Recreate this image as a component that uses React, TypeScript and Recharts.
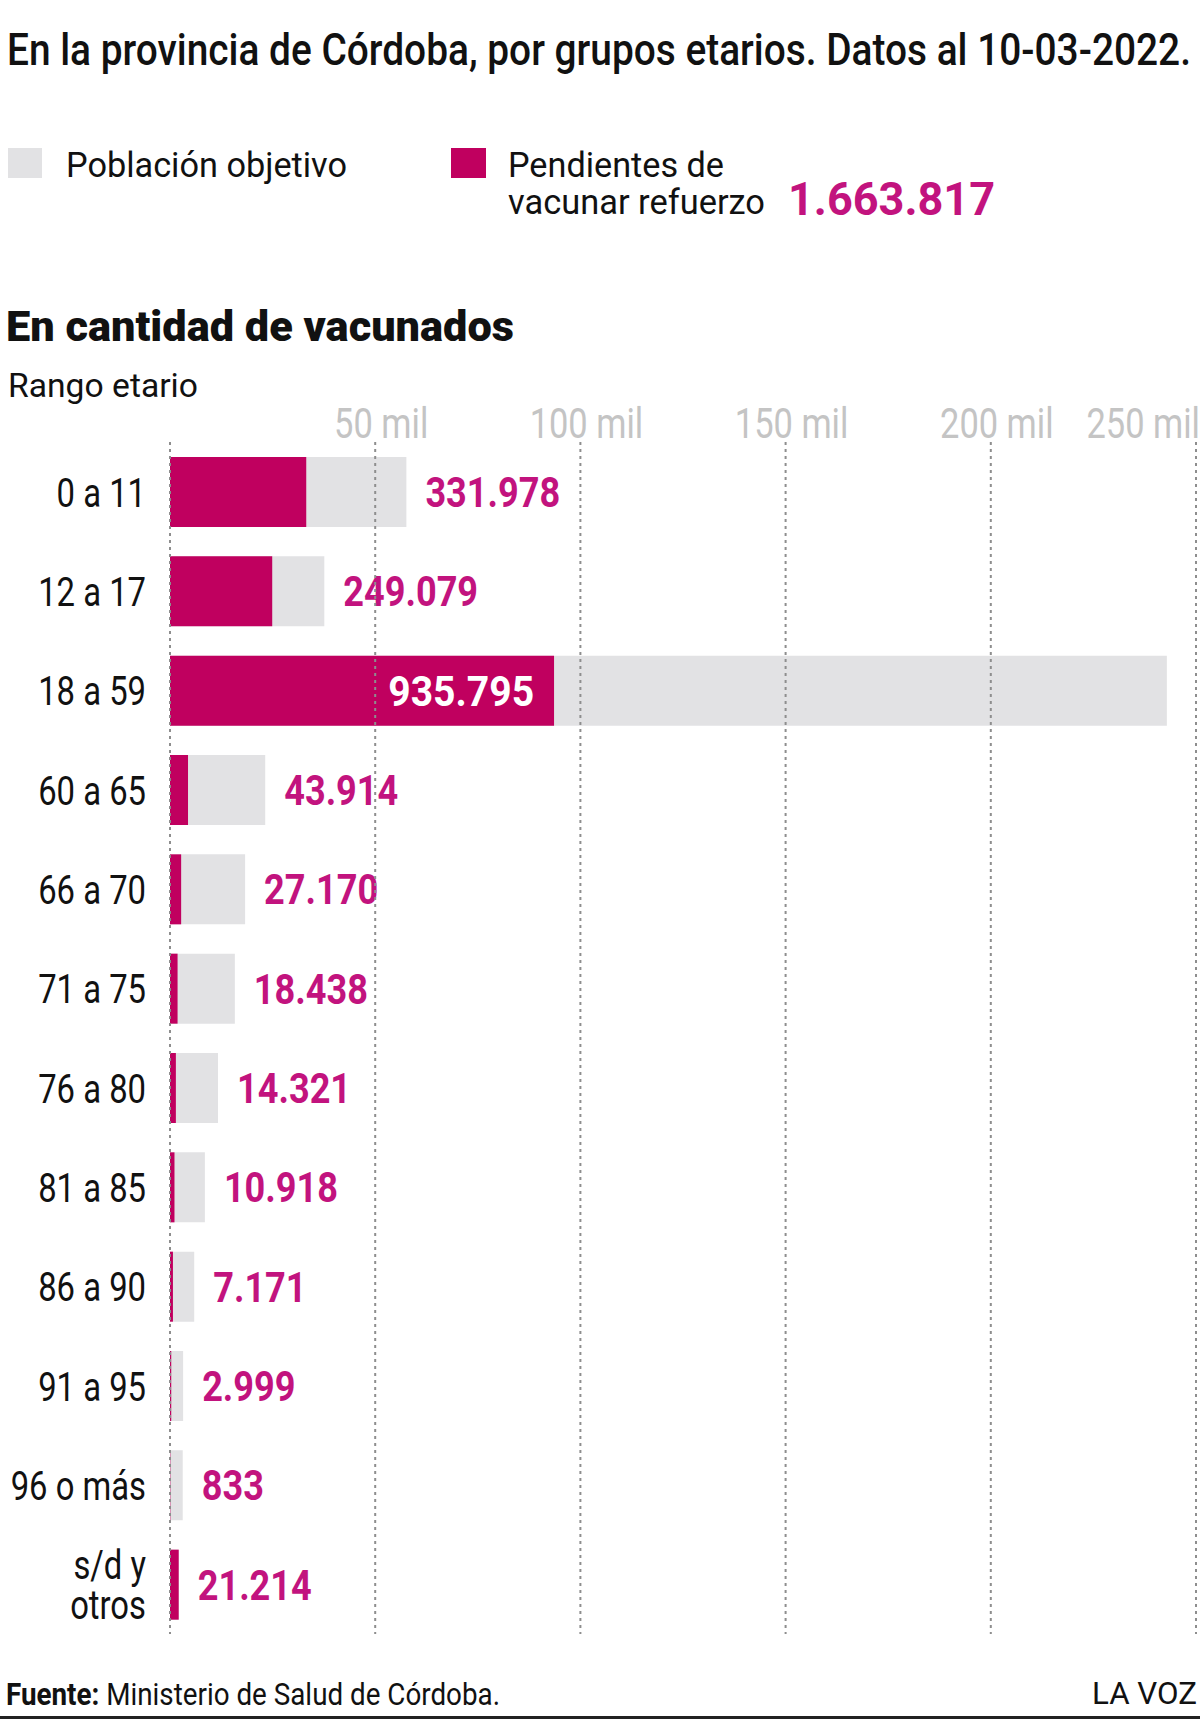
import React from 'react';
import { BarChart, Bar, XAxis, YAxis, CartesianGrid, LabelList } from 'recharts';

// ---- data ----
const categories = ['0 a 11', '12 a 17', '18 a 59', '60 a 65', '66 a 70', '71 a 75', '76 a 80', '81 a 85', '86 a 90', '91 a 95', '96 o más', 's/d y\notros'];
const poblacionObjetivo = [576000, 376000, 2429000, 232000, 183000, 158000, 117000, 85000, 59000, 32000, 31000, 21214];
const pendientes = [331978, 249079, 935795, 43914, 27170, 18438, 14321, 10918, 7171, 2999, 833, 21214];
const tickValues = [0, 500000, 1000000, 1500000, 2000000, 2500000];
const tickLabels = ['', '50 mil', '100 mil', '150 mil', '200 mil', '250 mil'];
const totalPendientes = '1.663.817';

const data = categories.map((c, i) => ({ cat: c, pob: poblacionObjetivo[i], pend: pendientes[i] }));

const PINK = '#C0005F';
const PINK_TEXT = '#C2137E';
const GRAY = '#E2E2E4';
const FONT = 'Roboto, "Noto Sans", sans-serif';

const fmt = (n: number) => String(n).replace(/\B(?=(\d{3})+(?!\d))/g, '.');
const INSIDE_LIMIT = 2000000;

const CHART_W = 1200;
const CHART_H = 1720;
const MARGIN = { top: 410, right: 4, bottom: 86, left: 10 };
const X_DOMAIN: [number, number] = [0, 2500000];

const XTick = (props: any) => {
  const { x, y, index } = props;
  const label = tickLabels[index] ?? '';
  if (!label) return null;
  const last = index === tickValues.length - 1;
  const tx = last ? x + 4 : x + 6;
  return (
    <text transform={`translate(${tx},${y}) scale(0.82,1)`} textAnchor={last ? 'end' : 'middle'}
      fontFamily={FONT} fontSize={42} fill="#C4C4C4">{label}</text>
  );
};

const EmptyTick = () => <g />;

const YTick = (props: any) => {
  const { x, y, payload } = props;
  const lines = String(payload.value).split('\n');
  const lh = 40;
  const start = y + 15 - ((lines.length - 1) * lh) / 2;
  return (
    <g>
      {lines.map((ln, i) => (
        <text key={i} transform={`translate(${x},${start + i * lh}) scale(0.8,1)`} textAnchor="end"
          fontFamily={FONT} fontSize={41} fill="#111">{ln}</text>
      ))}
    </g>
  );
};

const OutsideLabel = (props: any) => {
  const { x, y, width, height, index } = props;
  const row = data[index];
  if (!row || row.pob > INSIDE_LIMIT) return null;
  return (
    <text transform={`translate(${x + width + 19},${y + height / 2 + 15}) scale(0.86,1)`}
      fontFamily={FONT} fontWeight={700} fontSize={42} fill={PINK_TEXT}>{fmt(row.pend)}</text>
  );
};

const InsideLabel = (props: any) => {
  const { x, y, width, height, index } = props;
  const row = data[index];
  if (!row || row.pob <= INSIDE_LIMIT) return null;
  return (
    <text transform={`translate(${x + width - 20},${y + height / 2 + 15}) scale(0.93,1)`} textAnchor="end"
      fontFamily={FONT} fontWeight={700} fontSize={42} fill="#fff">{fmt(row.pend)}</text>
  );
};

export default function App() {
  return (
    <div style={{ position: 'absolute', left: 0, top: 0, width: 1200, height: 1720, background: '#fff', overflow: 'hidden' }}>
      {/* bars, axes and labels */}
      <div style={{ position: 'absolute', left: 0, top: 0 }}>
        <BarChart layout="vertical" width={CHART_W} height={CHART_H} data={data}
          margin={MARGIN} barSize={70} barGap={-70}>
          <XAxis type="number" orientation="top" domain={X_DOMAIN} ticks={tickValues} height={32}
            axisLine={false} tickLine={false} tickSize={0} tickMargin={4} tick={<XTick />} interval={0} />
          <YAxis type="category" dataKey="cat" width={160} axisLine={false} tickLine={false}
            tickSize={0} tickMargin={24} tick={<YTick />} interval={0} />
          <Bar dataKey="pob" fill={GRAY} isAnimationActive={false}>
            <LabelList dataKey="pend" content={<OutsideLabel />} />
          </Bar>
          <Bar dataKey="pend" fill={PINK} isAnimationActive={false}>
            <LabelList dataKey="pend" content={<InsideLabel />} />
          </Bar>
        </BarChart>
      </div>
      {/* same chart frame again, only its dotted grid, drawn above the bars */}
      <div style={{ position: 'absolute', left: 0, top: 0, pointerEvents: 'none' }}>
        <BarChart layout="vertical" width={CHART_W} height={CHART_H} data={data}
          margin={MARGIN} barSize={70} barGap={-70}>
          <XAxis type="number" orientation="top" domain={X_DOMAIN} ticks={tickValues} height={32}
            axisLine={false} tickLine={false} tickSize={0} tick={<EmptyTick />} interval={0} />
          <YAxis type="category" dataKey="cat" width={160} axisLine={false} tickLine={false}
            tickSize={0} tick={<EmptyTick />} interval={0} />
          <Bar dataKey="pob" fill="transparent" fillOpacity={0} isAnimationActive={false} />
          <CartesianGrid horizontal={false} vertical={true} stroke="#8E8E8E" strokeWidth={2} strokeDasharray="3 4" />
        </BarChart>
      </div>
      <svg width={1200} height={1720} style={{ position: 'absolute', left: 0, top: 0, pointerEvents: 'none' }}>
        <text x={7} y={65} fontFamily={FONT} fontWeight={500} fontSize={45} fill="#111"
          textLength={1184} lengthAdjust="spacingAndGlyphs">En la provincia de Córdoba, por grupos etarios. Datos al 10-03-2022.</text>

        <rect x={8} y={148} width={34} height={30} fill={GRAY} />
        <text x={66} y={177} fontFamily={FONT} fontSize={35} fill="#111"
          textLength={281} lengthAdjust="spacingAndGlyphs">Población objetivo</text>
        <rect x={451} y={148} width={35} height={30} fill={PINK} />
        <text x={508} y={177} fontFamily={FONT} fontSize={35} fill="#111"
          textLength={216} lengthAdjust="spacingAndGlyphs">Pendientes de</text>
        <text x={508} y={214} fontFamily={FONT} fontSize={35} fill="#111"
          textLength={257} lengthAdjust="spacingAndGlyphs">vacunar refuerzo</text>
        <text x={788} y={215} fontFamily={FONT} fontWeight={700} fontSize={46} fill={PINK_TEXT}
          textLength={207} lengthAdjust="spacingAndGlyphs">{totalPendientes}</text>

        <text x={6} y={341} fontFamily={FONT} fontWeight={900} fontSize={42} fill="#111"
          textLength={508} lengthAdjust="spacingAndGlyphs">En cantidad de vacunados</text>
        <text x={8} y={397} fontFamily={FONT} fontSize={34} fill="#111"
          textLength={190} lengthAdjust="spacingAndGlyphs">Rango etario</text>

        <text x={6} y={1705} fontFamily={FONT} fontSize={31} fill="#111"
          textLength={494} lengthAdjust="spacingAndGlyphs">
          <tspan fontWeight={700}>Fuente:</tspan> Ministerio de Salud de Córdoba.
        </text>
        <text x={1197} y={1704} textAnchor="end" fontFamily={FONT} fontSize={32} fill="#111"
          textLength={105} lengthAdjust="spacingAndGlyphs">LA VOZ</text>
        <rect x={0} y={1716} width={1200} height={3} fill="#222" />
      </svg>
    </div>
  );
}
